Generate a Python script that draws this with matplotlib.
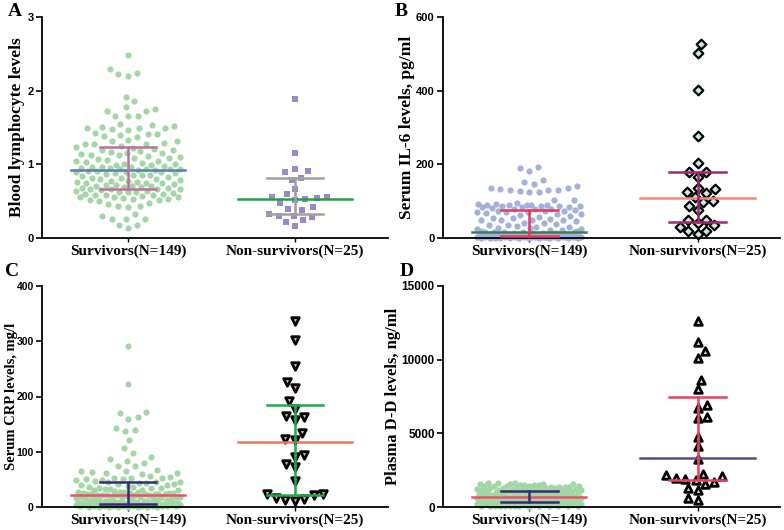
import numpy as np
import matplotlib
matplotlib.use("Agg")
import matplotlib.pyplot as plt

groups = ["Survivors(N=149)", "Non-survivors(N=25)"]

# ---- A: blood lymphocyte
lym_surv = [2.48, 2.29, 2.24, 2.22, 2.20, 1.92, 1.86, 1.78, 1.75, 1.73,
            1.72, 1.66, 1.65, 1.65, 1.55, 1.53, 1.52, 1.51, 1.50, 1.50,
            1.49, 1.48, 1.47, 1.42, 1.41, 1.41, 1.40, 1.38, 1.37, 1.33,
            1.32, 1.31, 1.29, 1.28, 1.28, 1.27, 1.25,
            1.23, 1.22, 1.21, 1.20, 1.19, 1.18, 1.17, 1.16, 1.15, 1.14,
            1.13, 1.12, 1.11, 1.10, 1.09, 1.08, 1.07, 1.06, 1.05, 1.04,
            1.03, 1.02, 1.01, 1.00, 0.99, 0.99, 0.98, 0.97, 0.97, 0.96,
            0.95, 0.95, 0.94, 0.94, 0.93, 0.93, 0.92,
            0.92, 0.91, 0.91, 0.90, 0.90, 0.89, 0.88, 0.88, 0.87, 0.86,
            0.85, 0.85, 0.84, 0.83, 0.82, 0.81, 0.80, 0.80, 0.79, 0.78,
            0.77, 0.76, 0.76, 0.75, 0.74, 0.74, 0.73, 0.72, 0.72, 0.71,
            0.70, 0.70, 0.69, 0.69, 0.68, 0.68, 0.67, 0.67,
            0.66, 0.66, 0.65, 0.64, 0.64, 0.63, 0.62, 0.62, 0.61, 0.60,
            0.60, 0.59, 0.58, 0.58, 0.57, 0.56, 0.55, 0.55, 0.54, 0.53,
            0.53, 0.52, 0.51, 0.50, 0.47, 0.46, 0.44, 0.43, 0.42, 0.33,
            0.30, 0.26, 0.26, 0.26, 0.18, 0.17, 0.13]
lym_non = [1.89, 1.15, 0.93, 0.91, 0.89, 0.82, 0.79, 0.67, 0.60, 0.56,
           0.55, 0.54, 0.53, 0.52, 0.47, 0.42, 0.40, 0.38, 0.33, 0.30,
           0.30, 0.29, 0.24, 0.22, 0.16]
lym_stats = [(0.92, 0.67, 1.23), (0.53, 0.33, 0.81)]  # median, q1, q3

# ---- B: IL-6
il6_surv = [194, 189, 183, 157, 152, 147, 140, 136, 135, 134,
            130, 129, 129, 128, 124, 124, 102, 102, 96, 92,
            91, 90, 90, 90, 89, 89, 88, 88, 87, 86,
            85, 85, 84, 82, 80, 79, 78,
            75, 74, 73, 72, 71, 70, 70, 68, 66, 65,
            62, 60, 57, 55, 54, 52, 50, 50, 49, 48,
            45, 42, 40, 38, 36, 35, 33, 31, 30, 28,
            27, 25, 24, 22, 21, 19, 18,
            17, 16.5, 16, 15.5, 15, 14.5, 14, 13.5, 13, 12.5,
            12, 11.5, 11, 10.5, 10, 10, 9.5, 9, 9, 8.5,
            8, 8, 7.5, 7.5, 7, 7, 6.8, 6.5, 6.3, 6,
            6, 5.8, 5.6, 5.5, 5.3, 5.2, 5.1,
            4.9, 4.8, 4.6, 4.5, 4.4, 4.2, 4.0, 3.9, 3.8, 3.6,
            3.5, 3.4, 3.2, 3.0, 2.9, 2.8, 2.6, 2.5, 2.4, 2.2,
            2.0, 1.9, 1.8, 1.6, 1.5, 1.4, 1.2, 1.0, 0.9, 0.8,
            0.6, 0.5, 0.4, 0.3, 0.2, 0.1, 0.1, 0.05]
il6_non = [527, 502, 402, 278, 204, 180, 178, 166, 135, 132,
           125, 122, 110, 100, 97, 86, 76, 50, 48, 40,
           35, 30, 20, 18, 10]
il6_stats = [(17, 5, 76), (109, 44, 178)]

# ---- C: CRP
crp_surv = [291, 223, 172, 170, 162, 160, 143, 139, 138, 122,
            107, 98, 90, 86, 84, 79, 75, 74, 67, 66,
            65, 63, 62, 61, 60, 57, 55, 53, 52, 52,
            50, 50, 49, 48, 47, 46, 46,
            45, 44, 43, 42, 41, 40, 39, 38, 37, 36,
            35, 35, 34, 33, 32, 31, 30, 30, 29, 28,
            28, 27, 27, 26, 26, 25, 25, 24, 24, 24,
            23, 23, 23, 22, 22, 22, 22,
            21, 21, 20, 20, 19, 19, 18, 18, 17, 17,
            16, 16, 15, 15, 14, 14, 13, 13, 12, 12,
            11, 11, 10, 10, 10, 9, 9, 9, 8, 8,
            8, 7, 7, 7, 6, 6, 6,
            5.8, 5.6, 5.5, 5.3, 5.1, 5.0, 4.8, 4.6, 4.5, 4.3,
            4.1, 4.0, 3.8, 3.6, 3.5, 3.3, 3.1, 3.0, 2.8, 2.6,
            2.5, 2.3, 2.1, 2.0, 1.8, 1.6, 1.5, 1.3, 1.1, 1.0,
            0.9, 0.8, 0.7, 0.6, 0.5, 0.4, 0.3, 0.2]
crp_non = [336, 302, 256, 227, 216, 191, 177, 164, 162, 158,
           134, 123, 121, 95, 90, 78, 72, 47, 24, 23,
           21, 17, 15, 12, 11]
crp_stats = [(22, 6, 45), (118, 22, 184)]

# ---- D: D-dimer
dd_surv = [1650, 1620, 1600, 1580, 1560, 1550, 1530, 1510, 1500, 1480,
           1470, 1450, 1440, 1420, 1410, 1400, 1380, 1370, 1350, 1340,
           1320, 1310, 1300, 1280, 1270, 1250, 1240, 1230, 1210, 1200,
           1190, 1170, 1160, 1150, 1130, 1120, 1110,
           1090, 1080, 1060, 1050, 1040, 1020, 1010, 990, 980, 970,
           950, 940, 920, 910, 900, 880, 870, 860, 840, 830,
           820, 800, 790, 780, 760, 750, 740, 720, 710, 700,
           690, 680, 670, 665, 660, 655, 650,
           640, 630, 620, 610, 600, 590, 580, 570, 560, 550,
           540, 530, 520, 510, 500, 490, 480, 470, 460, 450,
           440, 430, 420, 415, 410, 405, 400, 395, 390, 385,
           380, 375, 370, 365, 360, 355, 350,
           340, 330, 320, 310, 300, 290, 280, 270, 260, 250,
           240, 230, 220, 210, 200, 190, 180, 170, 160, 150,
           140, 130, 120, 110, 100, 95, 90, 85, 80, 75,
           70, 65, 60, 55, 50, 45, 40, 30]
dd_non = [12630, 11230, 10560, 10110, 8620, 8010, 6950, 6720, 6090, 6050,
          4780, 4110, 3270, 2260, 2190, 2080, 1990, 1920, 1850, 1690,
          1580, 1290, 1130, 630, 450]
dd_stats = [(650, 350, 1100), (3300, 1800, 7500)]

green = "#a3d6a5"
serif = "Liberation Serif"
sans = "Liberation Sans"


def swarm_x(ax, x0, values, gap=9.7, half=52):
    # beeswarm in pixel space, width capped at +-half (points overlap beyond that)
    vals = np.asarray(values, float)
    pts = ax.transData.transform(np.column_stack([np.full(len(vals), x0), vals]))
    cx = pts[0, 0]
    ys = pts[:, 1]
    offs = np.zeros(len(vals))
    placed = []
    grid = np.arange(-half, half + 0.01, 1.0)
    for n_i, i in enumerate(np.argsort(vals, kind="stable")):
        near = [j for j in placed if abs(ys[j] - ys[i]) < gap]
        if not near:
            placed.append(i)
            continue
        need = np.array([np.sqrt(gap ** 2 - (ys[j] - ys[i]) ** 2) for j in near])
        xs = offs[near]
        cands = np.concatenate([[0.0], xs + need, xs - need, grid])
        cands = cands[np.abs(cands) <= half + 1e-6]
        pen = np.array([np.max(np.clip(need - np.abs(c - xs), 0, None)) for c in cands])
        sgn = 1 if n_i % 2 else -1
        key = np.lexsort((sgn * cands, np.abs(cands), np.round(pen, 1)))
        offs[i] = cands[key[0]]
        placed.append(i)
    return ax.transData.inverted().transform(np.column_stack([cx + offs, ys]))[:, 0]


def summary(ax, x0, stats, mcol, ecol, lw=1.8):
    med, q1, q3 = stats
    ax.plot([x0 - 0.34, x0 + 0.34], [med, med], color=mcol, lw=lw, zorder=4, clip_on=False)
    ax.plot([x0, x0], [q1, q3], color=ecol, lw=lw, zorder=4, clip_on=False)
    for q in (q1, q3):
        ax.plot([x0 - 0.17, x0 + 0.17], [q, q], color=ecol, lw=lw, zorder=4, clip_on=False)


def setup(ax, ylim, yticks, xlim, ylabel, labx, tsize, lsize):
    ax.set_xlim(*xlim)
    ax.set_ylim(*ylim)
    ax.set_yticks(yticks)
    ax.set_xticks([0, 1])
    ax.set_xticklabels(groups, fontfamily=serif, fontweight="bold", fontsize=11)
    for lab in ax.get_yticklabels():
        lab.set_fontfamily(sans)
        lab.set_fontweight("bold")
        lab.set_fontsize(tsize)
    ax.spines["top"].set_visible(False)
    ax.spines["right"].set_visible(False)
    ax.spines["left"].set_linewidth(1.3)
    ax.spines["bottom"].set_linewidth(1.3)
    ax.tick_params(axis="y", length=4, width=1.2, pad=2)
    ax.tick_params(axis="x", length=3, width=1.0, pad=1.5)
    ax.set_ylabel(ylabel, fontfamily=serif, fontweight="bold", fontsize=lsize)
    ax.yaxis.set_label_coords(labx, 0.5)


W, H = 784, 530
fig = plt.figure(figsize=(W / 100, H / 100), dpi=100)

axA = fig.add_axes([42 / W, (H - 238) / H, 346 / W, 221 / H])
axB = fig.add_axes([443 / W, (H - 238) / H, 337 / W, 221 / H])
axC = fig.add_axes([42 / W, (H - 507) / H, 346 / W, 221 / H])
axD = fig.add_axes([443 / W, (H - 507) / H, 337 / W, 221 / H])

setup(axA, (0, 3), [0, 1, 2, 3], (-0.515, 1.557), "Blood lymphocyte levels", -0.049, 8, 12.5)
setup(axB, (0, 600), [0, 200, 400, 600], (-0.512, 1.49), "Serum IL-6 levels, pg/ml", -0.083, 8, 12.5)
setup(axC, (0, 400), [0, 100, 200, 300, 400], (-0.515, 1.557), "Serum CRP levels, mg/l", -0.0694, 7.5, 10.5)
setup(axD, (0, 15000), [0, 5000, 10000, 15000], (-0.512, 1.49), "Plasma D-D levels, ng/ml", -0.125, 8.5, 12)

# A
axA.scatter(swarm_x(axA, 0, lym_surv), lym_surv, s=20, color=green, linewidths=0, zorder=2, clip_on=False)
axA.scatter(swarm_x(axA, 1, lym_non), lym_non, s=22, marker="s", color="#9b88c8", linewidths=0, zorder=2, clip_on=False)
summary(axA, 0, lym_stats[0], "#5a7fb0", "#c06fa0")
summary(axA, 1, lym_stats[1], "#22a045", "#a0a0a0")

# B
axB.scatter(swarm_x(axB, 0, il6_surv), il6_surv, s=20, color="#a4afdb", linewidths=0, zorder=2, clip_on=False)
axB.scatter(swarm_x(axB, 1, il6_non), il6_non, s=24, marker="D", color="#c5ece6", edgecolors="black",
            linewidths=1.6, zorder=2, clip_on=False)
summary(axB, 0, il6_stats[0], "#3f7d4f", "#e8385a")
summary(axB, 1, il6_stats[1], "#f4877a", "#a02a70")

# C
axC.scatter(swarm_x(axC, 0, crp_surv), crp_surv, s=20, color=green, linewidths=0, zorder=2, clip_on=False)
axC.scatter(swarm_x(axC, 1, crp_non), crp_non, s=30, marker="v", color="#f5a8c0", edgecolors="black",
            linewidths=2.0, zorder=2, clip_on=False)
summary(axC, 0, crp_stats[0], "#f0506a", "#3b2a78")
summary(axC, 1, crp_stats[1], "#f07560", "#20a84a")

# D
axD.scatter(swarm_x(axD, 0, dd_surv), dd_surv, s=20, color=green, linewidths=0, zorder=2, clip_on=False)
axD.scatter(swarm_x(axD, 1, dd_non), dd_non, s=30, marker="^", color="#d0f0dc", edgecolors="black",
            linewidths=2.0, zorder=2, clip_on=False)
summary(axD, 0, dd_stats[0], "#f0506a", "#3b2a78")
summary(axD, 1, dd_stats[1], "#5b4a8c", "#ec4062")

for letter, x, y in [("A", 15, 12), ("B", 401, 12), ("C", 12, 271), ("D", 407, 271)]:
    fig.text(x / W, 1 - y / H, letter, fontfamily=serif, fontweight="bold", fontsize=14,
             ha="center", va="center")

fig.savefig("out.png", dpi=100)
